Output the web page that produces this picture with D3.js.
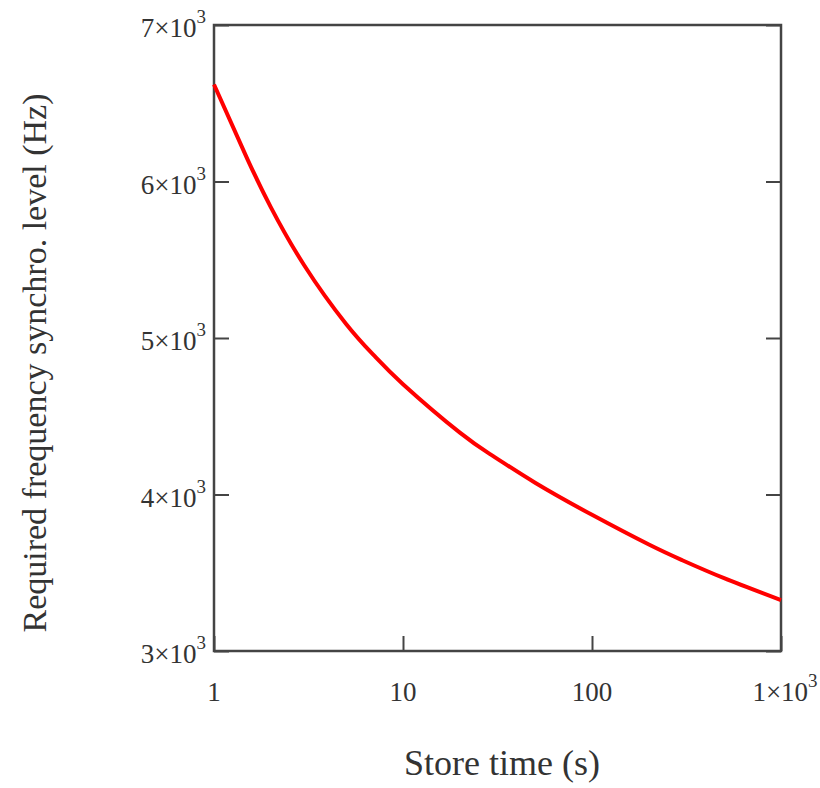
<!DOCTYPE html>
<html>
<head>
<meta charset="utf-8">
<script src="https://cdn.jsdelivr.net/npm/d3@7"></script>
<style>
  body { margin: 0; background: #fff; }
  text { font-family: "Liberation Serif", "Times New Roman", serif; fill: #333; }
</style>
</head>
<body>
<div id="chart"></div>
<script>
// Store time (s) vs required frequency synchro. level (Hz)
const storeTime = [1, 1.5, 2, 3, 5, 7, 10, 20, 30, 50, 100, 200, 300, 500, 1000];
const freqLevel = [6620, 6145, 5835, 5465, 5090, 4890, 4705, 4395, 4245, 4075, 3870, 3680, 3580, 3465, 3325];

const xTicks = [1, 10, 100, 1000];
const xTickLabels = ["1", "10", "100", "1×10"];
const xTickSup = ["", "", "", "3"];
const yTicks = [3000, 4000, 5000, 6000, 7000];
const yTickLabels = ["3×10", "4×10", "5×10", "6×10", "7×10"];

// Margin convention
const margin = {top: 25, right: 39, bottom: 137, left: 214};
const width = 820 - margin.left - margin.right,
      height = 788 - margin.top - margin.bottom;

const svg = d3.select("#chart").append("svg")
  .attr("width", 820)
  .attr("height", 788);

const g = svg.append("g")
  .attr("transform", `translate(${margin.left},${margin.top})`);

const x = d3.scaleLog().domain([1, 1000]).range([0, width]);
const y = d3.scaleLinear().domain([3000, 7000]).range([height, 0]);

const tickLen = 15;
const frame = "#444";

// inward ticks, labels drawn by hand below
const axisStyle = sel => {
  sel.select(".domain").remove();
  sel.selectAll(".tick line").attr("stroke", frame).attr("stroke-width", 2);
  sel.selectAll(".tick text").remove();
};

g.append("g").attr("transform", `translate(0,${height})`)
  .call(d3.axisBottom(x).tickValues(xTicks).tickSizeInner(-tickLen)).call(axisStyle);
g.append("g")
  .call(d3.axisLeft(y).tickValues(yTicks).tickSizeInner(-tickLen)).call(axisStyle);
g.append("g").attr("transform", `translate(${width},0)`)
  .call(d3.axisRight(y).tickValues(yTicks).tickSizeInner(-tickLen)).call(axisStyle);

// frame
g.append("rect")
  .attr("width", width).attr("height", height)
  .attr("fill", "none").attr("stroke", frame).attr("stroke-width", 2.5);

// curve
const line = d3.line()
  .x((d, i) => x(storeTime[i]))
  .y(d => y(d))
  .curve(d3.curveNatural);

g.append("path")
  .datum(freqLevel)
  .attr("fill", "none")
  .attr("stroke", "#ff0000")
  .attr("stroke-width", 4)
  .attr("d", line);

// y tick labels
yTicks.forEach((v, i) => {
  const t = g.append("text")
    .attr("x", -8)
    .attr("y", y(v) + 12)
    .attr("text-anchor", "end")
    .attr("font-size", 27);
  t.append("tspan").text(yTickLabels[i]);
  t.append("tspan").attr("dy", -14).attr("font-size", 19).text("3");
});

// x tick labels
xTicks.forEach((v, i) => {
  const t = g.append("text")
    .attr("x", x(v) + (xTickSup[i] ? 4 : 0))
    .attr("y", height + 50)
    .attr("text-anchor", "middle")
    .attr("font-size", 27);
  t.append("tspan").text(xTickLabels[i]);
  if (xTickSup[i]) t.append("tspan").attr("dy", -14).attr("font-size", 19).text(xTickSup[i]);
});

// axis titles
svg.append("text")
  .attr("x", 502)
  .attr("y", 775)
  .attr("text-anchor", "middle")
  .attr("font-size", 36)
  .text("Store time (s)");

svg.append("text")
  .attr("transform", `translate(46,${363}) rotate(-90)`)
  .attr("text-anchor", "middle")
  .attr("font-size", 34)
  .text("Required frequency synchro. level (Hz)");
</script>
</body>
</html>
